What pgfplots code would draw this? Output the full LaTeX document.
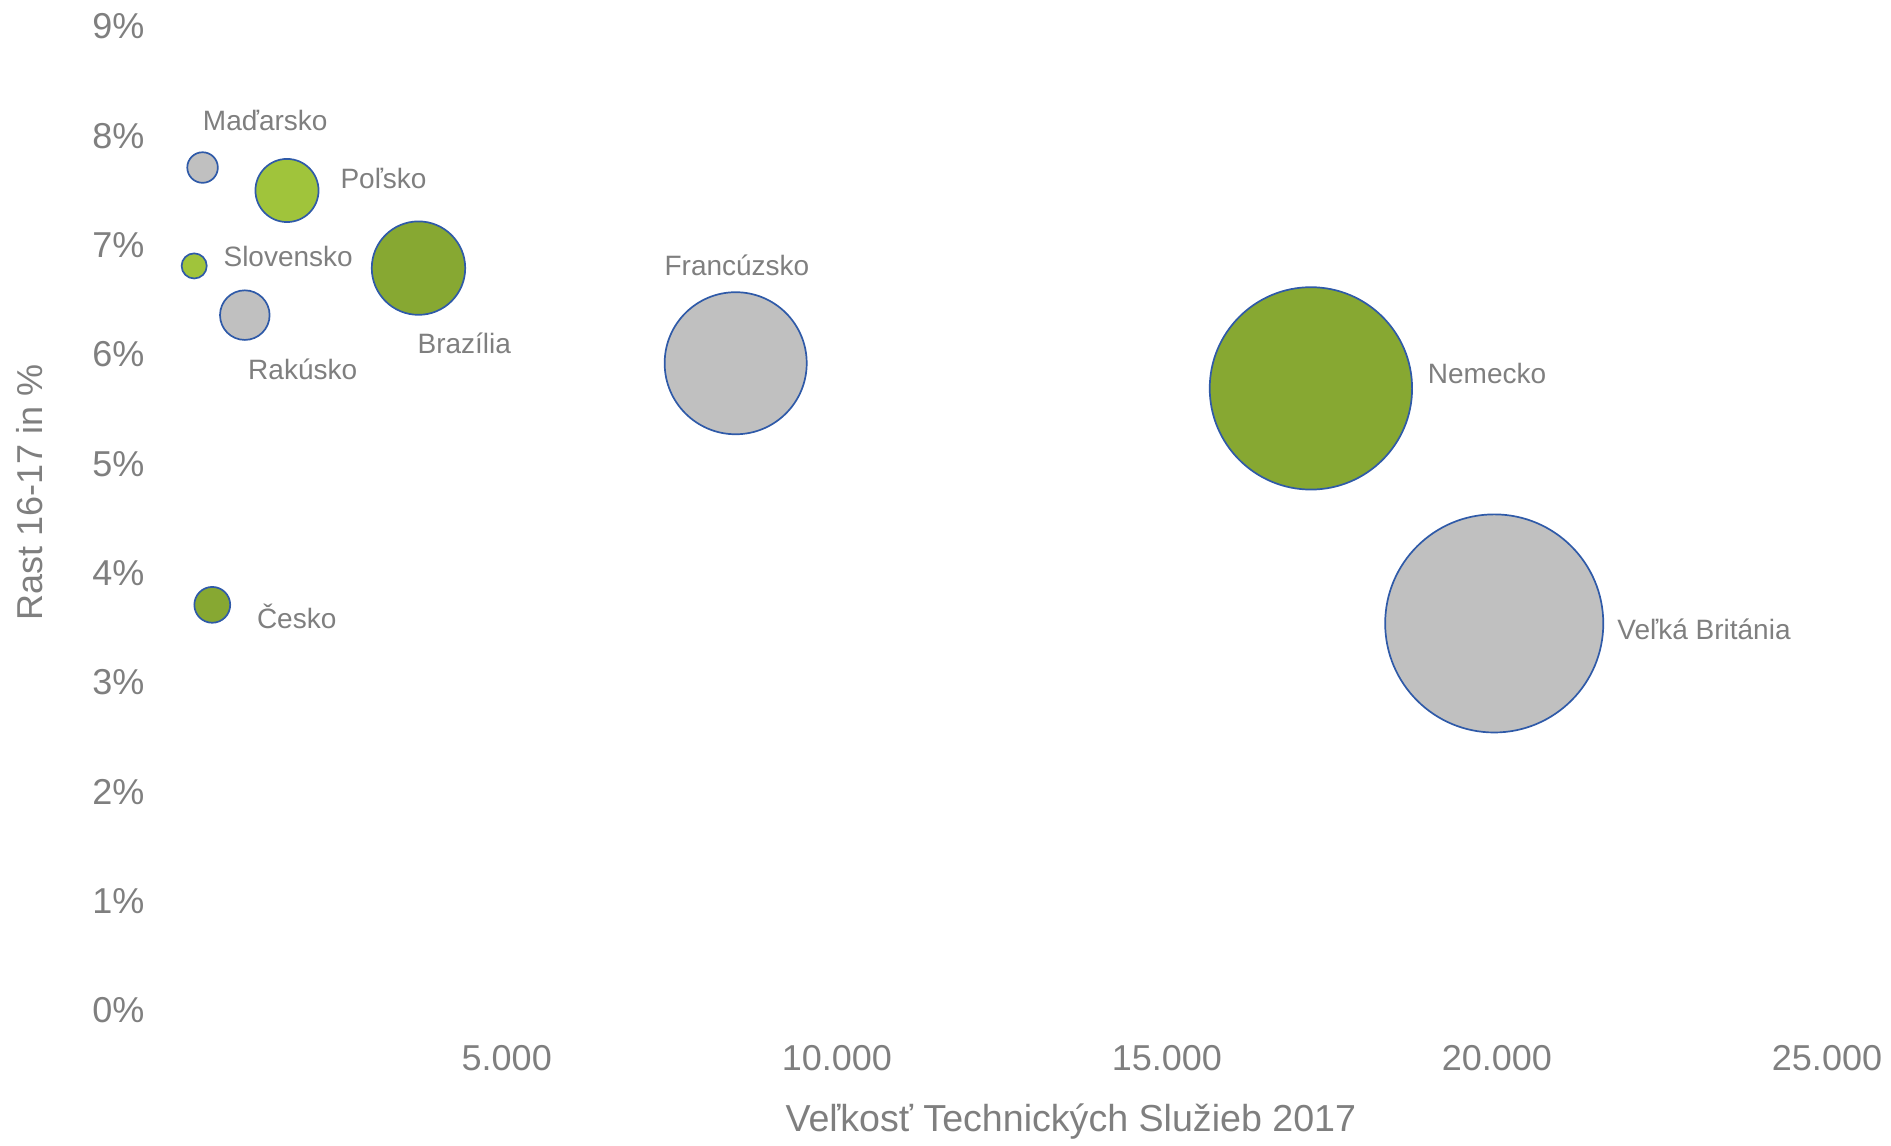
\documentclass[border=0pt]{standalone}
\usepackage{pgfplots}
\pgfplotsset{compat=1.18}
\usepackage{fontspec}
\setmainfont{Liberation Sans}
\definecolor{txt}{HTML}{7F7F7F}
\definecolor{edge}{HTML}{2F5AA8}
\definecolor{gfill}{HTML}{C0C0C0}
\definecolor{lgreen}{HTML}{A0C43B}
\definecolor{dgreen}{HTML}{87A832}
\tikzset{lab/.style={font=\fontsize{14}{16}\selectfont, text=txt, anchor=center, inner sep=0pt}}
\pgfplotsset{
  bubble/.style={scatter, only marks, mark=*, line width=0.85pt,
    scatter/use mapped color={draw=edge, fill=#1},
    visualization depends on={0.386*sqrt(\thisrow{s})\as\msize},
    scatter/@pre marker code/.append style={/tikz/mark size=\msize}},
}
\begin{document}
\begin{tikzpicture}
\path[use as bounding box] (-88.35pt,-67.7pt) rectangle (857.2pt,505.25pt);
\begin{axis}[
  at={(0pt,0pt)}, anchor=south west,
  scale only axis, width=825.2pt, height=492pt,
  xmin=0, xmax=25000, ymin=0, ymax=9,
  clip=false,
  scaled x ticks=false, scaled y ticks=false,
  axis line style={draw=none}, major tick length=0pt,
  xtick={5000,10000,15000,20000,25000},
  xticklabels={5.000,10.000,15.000,20.000,25.000},
  ytick={0,1,2,3,4,5,6,7,8,9},
  yticklabels={0\%,1\%,2\%,3\%,4\%,5\%,6\%,7\%,8\%,9\%},
  tick label style={font=\fontsize{18}{20}\selectfont, text=txt},
  xticklabel style={anchor=center, yshift=-23.7pt, inner sep=0pt},
  yticklabel style={anchor=east, xshift=-16pt, inner sep=0pt},
  xlabel={Veľkosť Technických Služieb 2017},
  ylabel={Rast 16-17 in \%},
  every axis x label/.style={at={(axis description cs:0.5418,-0.1128)}, anchor=center, font=\fontsize{18.8}{20}\selectfont, text=txt},
  every axis y label/.style={at={(axis description cs:-0.0888,0.5263)}, rotate=90, anchor=center, font=\fontsize{18}{20}\selectfont, text=txt},
]
\addplot[bubble=gfill] table {
x y s
392 7.71 392
1032 6.36 1032
8468 5.92 8468
19959 3.54 19959
};
\addplot[bubble=lgreen] table {
x y s
1671 7.50 1671
265 6.81 265
};
\addplot[bubble=dgreen] table {
x y s
3663 6.79 3663
17182 5.69 17182
539 3.71 539
};
\node[lab] at (axis cs:1342,8.14) {Maďarsko};
\node[lab] at (axis cs:3133,7.61) {Poľsko};
\node[lab] at (axis cs:1689,6.90) {Slovensko};
\node[lab] at (axis cs:1909,5.86) {Rakúsko};
\node[lab] at (axis cs:4357,6.10) {Brazília};
\node[lab] at (axis cs:8487,6.82) {Francúzsko};
\node[lab] at (axis cs:19850,5.83) {Nemecko};
\node[lab] at (axis cs:23137,3.49) {Veľká Británia};
\node[lab] at (axis cs:1818,3.60) {Česko};
\end{axis}
\end{tikzpicture}
\end{document}
